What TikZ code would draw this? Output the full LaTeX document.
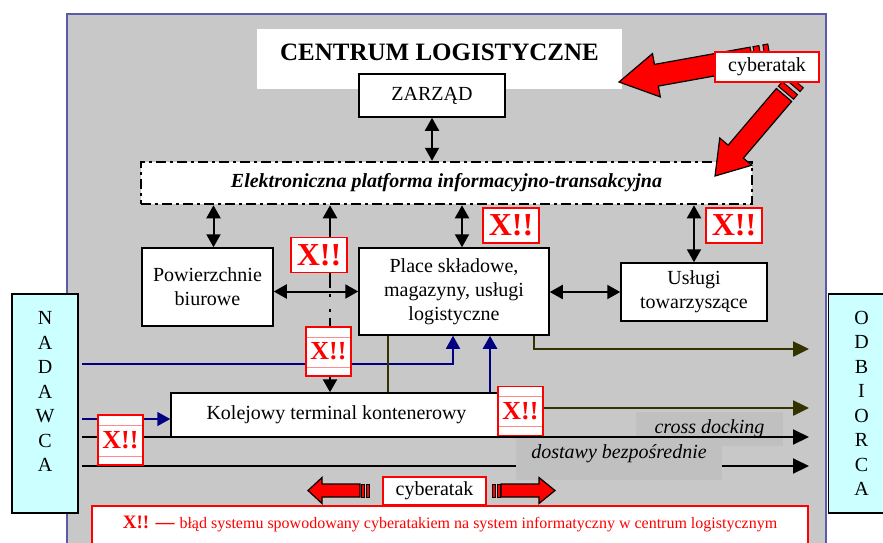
\documentclass[tikz,border=0pt]{standalone}
\usepackage{fontspec}
\setmainfont{Liberation Serif}
\usetikzlibrary{calc}
\usetikzlibrary{arrows.meta}

\definecolor{panelgray}{RGB}{200,200,200}
\definecolor{panelblue}{RGB}{90,90,170}
\definecolor{labelgray}{RGB}{192,192,192}
\definecolor{sidecyan}{RGB}{204,255,255}
\definecolor{navyline}{RGB}{0,0,128}
\definecolor{oliveline}{RGB}{51,51,0}

% block arrow: tail, tip, half shaft, half head, head length, stripes
\newcommand{\cyberarrow}[6]{%
  \coordinate (ca-base) at ($(#2)!#5!(#1)$);
  \filldraw[fill=red, draw=black, line width=1.2pt, line join=miter]
    ($(#1)!#3!90:(#2)$) -- ($(ca-base)!#3!90:(#2)$) -- ($(ca-base)!#4!90:(#2)$)
    -- (#2) -- ($(ca-base)!#4!-90:(#2)$) -- ($(ca-base)!#3!-90:(#2)$)
    -- ($(#1)!#3!-90:(#2)$) -- cycle;
  \foreach \s/\e in {#6} {
    \coordinate (ca-s) at ($(#1)!-\s!(#2)$);
    \coordinate (ca-e) at ($(#1)!-\e!(#2)$);
    \filldraw[fill=red, draw=black, line width=1pt]
      ($(ca-s)!#3!90:(#2)$) -- ($(ca-e)!#3!90:(#2)$)
      -- ($(ca-e)!#3!-90:(#2)$) -- ($(ca-s)!#3!-90:(#2)$) -- cycle;
  }%
}

\begin{document}
\begin{tikzpicture}[x=1pt, y=-1pt,
  box/.style={draw, line width=1.5pt, fill=white, inner sep=0pt, align=center,
    font=\fontsize{20}{24}\selectfont},
  titlebox/.style={fill=white, inner sep=0pt, minimum width=365pt, minimum height=60pt,
    text depth=13.5pt, font=\fontsize{25}{30}\selectfont\bfseries},
  platbox/.style={box, line width=2.5pt, dash pattern=on 10pt off 4pt on 3pt off 4pt,
    font=\fontsize{20}{24}\selectfont\bfseries\itshape},
  sidebox/.style={box, fill=sidecyan, minimum width=66pt, minimum height=219pt},
  greylabel/.style={fill=labelgray, inner sep=0pt, font=\fontsize{20}{24}\selectfont\itshape},
  attackbox/.style={draw=red, line width=1.5pt, fill=white, inner sep=0pt,
    font=\fontsize{20}{24}\selectfont},
  xbox/.style={draw=red, line width=1.5pt, fill=white, inner sep=0pt, text=red,
    minimum width=56pt, minimum height=35pt, font=\fontsize{32}{32}\selectfont\bfseries},
  xstriped/.style={xbox, minimum width=45pt, minimum height=49pt,
    font=\fontsize{26}{26}\selectfont\bfseries,
    path picture={\draw[red!45, line width=1pt]
      ([yshift=-10pt]path picture bounding box.north west) -- ([yshift=-10pt]path picture bounding box.north east)
      ([yshift=9pt]path picture bounding box.south west) -- ([yshift=9pt]path picture bounding box.south east);}},
  dbl/.style={<->, line width=2pt, >={Triangle[length=13pt,width=14pt]}},
  dotconn/.style={dbl, line width=2.5pt, dash pattern=on 20pt off 6pt on 3pt off 12pt on 3pt off 6pt},
  navyflow/.style={->, navyline, line width=1.5pt, >={Triangle[length=13pt,width=14pt]}},
  olivebar/.style={oliveline, line width=2.5pt},
  oliveflow/.style={->, olivebar, >={Triangle[length=16pt,width=15pt]}},
  blackflow/.style={->, line width=2pt, >={Triangle[length=16pt,width=15pt]}}]

\useasboundingbox (0,0) rectangle (883,542);
\fill[white] (0,0) rectangle (883,542);
\filldraw[fill=panelgray, draw=panelblue, line width=1.5pt] (67,14) rectangle (826,560);

% main blocks
\node[titlebox] (tytul) at (439.5,59) {CENTRUM LOGISTYCZNE};
\node[box, minimum width=146pt, minimum height=43pt] (zarzad) at (432,95.5) {ZARZĄD};
\node[platbox, minimum width=611pt, minimum height=42pt] (platforma) at (446.5,183)
  {Elektroniczna platforma informacyjno-transakcyjna};
\node[box, minimum width=131pt, minimum height=78pt] (biuro) at (207.5,287) {Powierzchnie\\biurowe};
\node[box, minimum width=190pt, minimum height=87pt] (place) at (454,291.5)
  {Place składowe,\\magazyny, usługi\\logistyczne};
\node[box, minimum width=146pt, minimum height=58pt] (uslugi) at (694,292) {Usługi\\towarzyszące};
\node[box, minimum width=331pt, minimum height=44pt] (terminal) at (336.5,415)
  {Kolejowy terminal kontenerowy};
\node[sidebox, label={[name=nadawcaNapis, align=center, yshift=12pt,
  font=\fontsize{20}{24.5}\selectfont]center:N\\A\\D\\A\\W\\C\\A}] (nadawca) at (45,403.5) {};
\node[sidebox, font=\fontsize{20}{24.5}\selectfont] (odbiorca) at (861.5,403.5) {O\\D\\B\\I\\O\\R\\C\\A};

% free ends of the flows
\coordinate (in1) at (82,364);
\coordinate (in2) at (82,419);
\coordinate (in3) at (82,437);
\coordinate (in4) at (82,466);
\coordinate (out1) at (809,349);
\coordinate (out2) at (809,408);
\coordinate (out3) at (809,437);
\coordinate (out4) at (809,466);

\node[greylabel, minimum width=147pt, minimum height=34pt] (crossdock) at (709.5,429) {cross docking};

% information links
\draw[dbl] (zarzad.south) -- (zarzad.south |- platforma.north);
\draw[dbl] ([xshift=6pt]biuro.north) -- ([xshift=6pt]biuro.north |- platforma.south);
\draw[dbl] ([xshift=8pt]place.north) -- ([xshift=8pt]place.north |- platforma.south);
\draw[dbl] (uslugi.north) -- (uslugi.north |- platforma.south);
\draw[dbl] (biuro.east |- place.west) -- (place.west);
\draw[dbl] (place.east |- uslugi.west) -- (uslugi.west);
\draw[dotconn] ([xshift=-6.5pt]terminal.north |- platforma.south) -- ([xshift=-6.5pt]terminal.north);

% goods flows
\draw[navyflow] (in1) -| ([xshift=-1pt]place.south);
\draw[navyflow, line width=2.5pt] ([xshift=36pt]place.south |- terminal.north) -- ([xshift=36pt]place.south);
\draw[navyflow] (in2) -- (terminal.west |- in2);
\draw[olivebar] ([xshift=-66pt]place.south) -- ([xshift=-66pt]place.south |- terminal.north);
\draw[oliveflow] ([xshift=80pt]place.south) |- (out1);
\draw[oliveflow] (terminal.east |- out2) -- (out2);
\draw[blackflow] (in4) -- (out4);
\node[greylabel, minimum width=206pt, minimum height=42pt, text depth=15pt] (dostawy) at (619,459)
  {dostawy bezpośrednie};
\draw[blackflow] (in3) -- (out3);

% cyber attacks
\coordinate (ca1t) at (752,58);
\coordinate (ca1h) at (619,82);
\coordinate (ca2t) at (784,95);
\coordinate (ca2h) at (715,176);
\coordinate (ca3t) at (360,490.5);
\coordinate (ca3h) at (308,490.5);
\coordinate (ca4t) at (501,490.5);
\coordinate (ca4h) at (555,490.5);
\cyberarrow{ca1t}{ca1h}{11pt}{22pt}{38pt}{3pt/9pt,13pt/18pt}
\cyberarrow{ca2t}{ca2h}{10pt}{21pt}{32pt}{3pt/9pt,13pt/18pt}
\cyberarrow{ca3t}{ca3h}{6.5pt}{13pt}{14pt}{1pt/4pt,6pt/9pt}
\cyberarrow{ca4t}{ca4h}{6.5pt}{13pt}{16pt}{1pt/4pt,6pt/9pt}
\node[attackbox, minimum width=104pt, minimum height=30pt] (atakGora) at (767,67) {cyberatak};
\node[attackbox, minimum width=103pt, minimum height=28pt] (atakDol) at (434.5,491) {cyberatak};

% failure points
\node[xbox] (blad1) at (319,255) {X!!};
\node[xbox] (blad2) at (511,225.5) {X!!};
\node[xbox] (blad3) at (734,225.5) {X!!};
\node[xstriped] (blad4) at (328.5,351.5) {X!!};
\node[xstriped] (blad5) at (520.5,411) {X!!};
\node[xstriped, minimum height=50pt] (blad6) at (120.5,440) {X!!};

\node[attackbox, minimum width=716pt, minimum height=40pt, text depth=8pt, text=red] (legenda) at (450,526)
  {{\fontsize{19}{21}\selectfont\bfseries X!! —} \fontsize{16}{19}\selectfont błąd systemu spowodowany cyberatakiem na system informatyczny w centrum logistycznym};

\end{tikzpicture}
\end{document}
